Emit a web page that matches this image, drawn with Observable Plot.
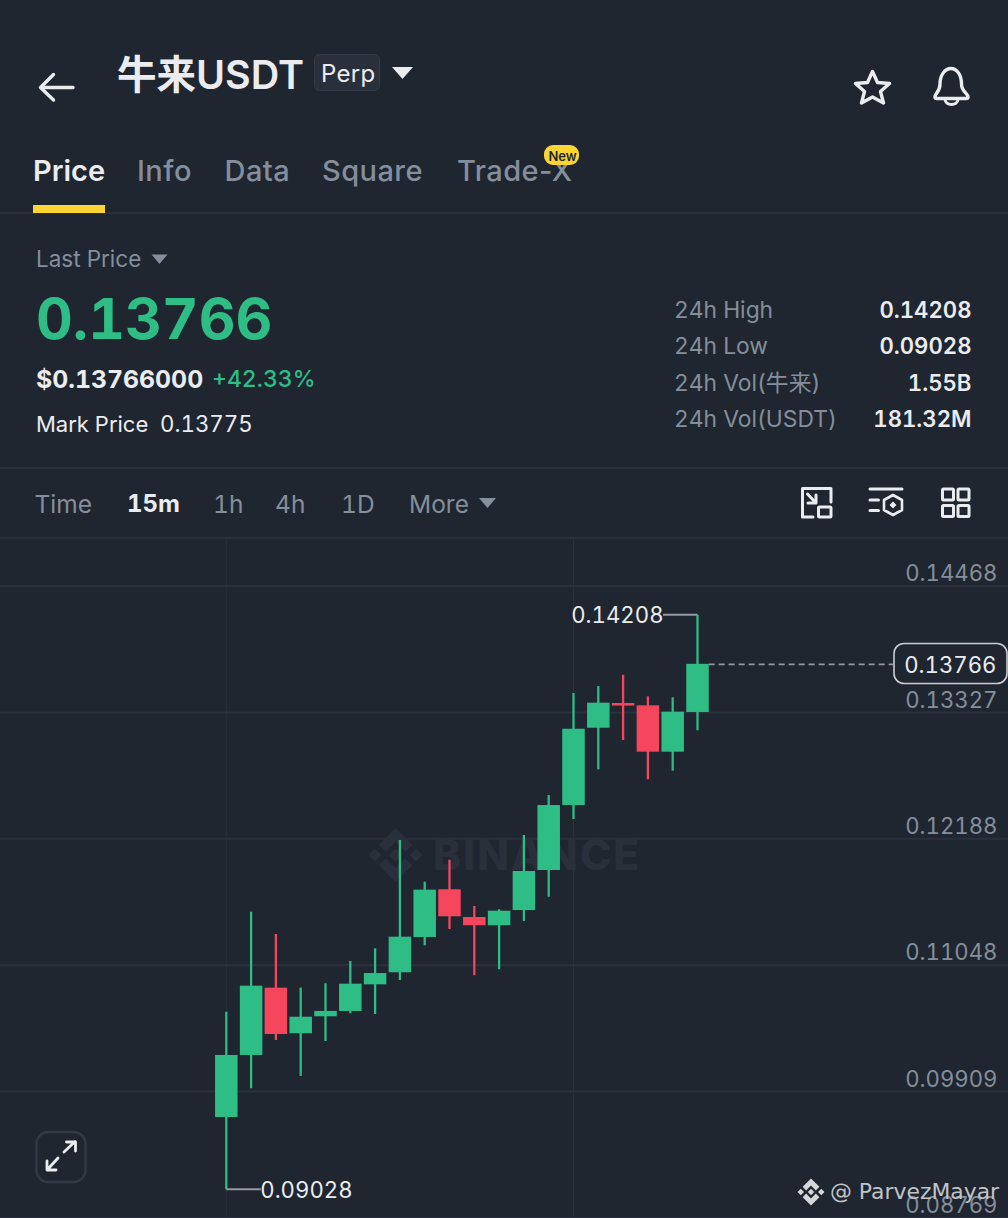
<!DOCTYPE html>
<html><head><meta charset="utf-8">
<script src="https://cdn.jsdelivr.net/npm/d3@7"></script>
<script src="https://cdn.jsdelivr.net/npm/@observablehq/plot@0.6"></script>
<style>
html,body{margin:0;padding:0;background:#1f2630;}
#page{position:relative;width:1008px;height:1218px;overflow:hidden;background:#1f2630;font-family:Inter,"Noto Sans CJK SC",sans-serif;font-variant-numeric:tabular-nums;}
.t{position:absolute;line-height:0;white-space:nowrap;}
.hr{position:absolute;left:0;width:1008px;height:2px;background:#2a303b;}
#page svg.ic{position:absolute;left:0;top:0;overflow:visible;}
#plot{position:absolute;left:0;top:538px;}
#plot svg{display:block;font-variant-numeric:tabular-nums;}
</style></head><body><div id="page"></div>
<script>
// Candle data (15m candles, oldest first)
const opens  = [0.09680,0.10239,0.10846,0.10435,0.10588,0.10636,0.10876,0.10985,0.11303,0.11733,0.11483,0.11409,0.11546,0.11907,0.12493,0.13190,0.13413,0.13392,0.12974,0.13332];
const closes = [0.10239,0.10864,0.10428,0.10584,0.10636,0.10882,0.10978,0.11306,0.11730,0.11490,0.11409,0.11540,0.11898,0.12493,0.13181,0.13416,0.13390,0.12974,0.13335,0.13766];
const highs  = [0.10629,0.11531,0.11330,0.10846,0.10886,0.11087,0.11201,0.12178,0.11802,0.12000,0.11583,0.11553,0.12223,0.12583,0.13503,0.13566,0.13668,0.13473,0.13464,0.14208];
const lows   = [0.09028,0.09939,0.10374,0.10050,0.10365,0.10615,0.10609,0.10915,0.11228,0.11375,0.10958,0.11012,0.11447,0.11666,0.12367,0.12815,0.13079,0.12725,0.12803,0.13167];
const priceTicks = [0.14468,0.13327,0.12188,0.11048,0.09909,0.08769];
const verticalGridAt = [0,14];
const lastPrice = 0.13766, dayHigh = 0.14208, dayLow = 0.09028;
const tabs = ["Price","Info","Data","Square","Trade-X"];
const intervals = ["Time","15m","1h","4h","1D","More"];
const statLabels = ["24h High","24h Low","24h Vol(牛来)","24h Vol(USDT)"];
const statValues = ["0.14208","0.09028","1.55B","181.32M"];

const BG="#1f2630", GREEN="#2ebd85", RED="#f6465d", GRAY="#848e9c", WHITE="#eaecef", GRID="#2b313c";
const page=document.getElementById("page");
function T(s,x,y,size,color,weight=400,opt={}){
  const e=document.createElement("div");e.className="t";e.textContent=s;
  e.style.cssText+=`top:${y}px;font-size:${size}px;color:${color};font-weight:${weight};`;
  if(opt.right!=null)e.style.right=(1008-opt.right)+"px";else e.style.left=x+"px";
  if(opt.ls)e.style.letterSpacing=opt.ls+"px";
  if(opt.font)e.style.fontFamily=opt.font;
  if(opt.prop)e.style.fontVariantNumeric="normal";
  page.appendChild(e);return e;
}
function HR(y){const e=document.createElement("div");e.className="hr";e.style.top=y+"px";page.appendChild(e);}
function SVG(inner){
  const d=document.createElement("div");
  d.innerHTML=`<svg class="ic" width="1008" height="1218">${inner}</svg>`;
  page.appendChild(d.firstChild);
}
HR(212);HR(467);HR(537);

// watermark (behind the chart)
const diamond=(cx,cy,s,fill)=>`<g transform="translate(${cx},${cy}) scale(${s})" fill="${fill}">
<path d="M0 -10 L6.2 -3.8 L3.6 -1.2 L0 -4.8 L-3.6 -1.2 L-6.2 -3.8Z"/><path d="M0 10 L6.2 3.8 L3.6 1.2 L0 4.8 L-3.6 1.2 L-6.2 3.8Z"/>
<path d="M0 -2.4 L2.4 0 L0 2.4 L-2.4 0Z"/><path d="M-7.6 -2.4 L-5.2 0 L-7.6 2.4 L-10 0Z"/><path d="M7.6 -2.4 L10 0 L7.6 2.4 L5.2 0Z"/></g>`;
SVG(diamond(395.5,855,2.7,"#2a303b"));
T("BINANCE",433,855,42,"#2a303b",800,{ls:2.1});

// Header
SVG(`<g fill="none" stroke="#eaecef" stroke-width="3.4" stroke-linecap="round" stroke-linejoin="round">
<path d="M73 87.5H41M53.5 74.5L40.5 87.5L53.5 100"/>
<path d="M872.5 71.5L877.5 82.5L889.5 83.5L880.5 91.5L883.5 103L872.5 97L861.5 103L864.5 91.5L855.5 83.5L867.5 82.5Z"/>
<path d="M935 97C935 93 940 92 940 84C940 75 945 68.5 951 68.5C957 68.5 961.5 75 961.5 84C961.5 92 968 93 968 97C968 98 967 98.5 966 98.5H937C935.8 98.5 935 98 935 97Z"/>
<path d="M945 99.5C945.5 106 957.5 106 958 99.5" stroke-width="3"/></g>
<rect x="314.5" y="54.5" width="65" height="36" rx="5" fill="#2a303b" stroke="#353c48"/>
<path d="M392 67H413L402.5 79Z" fill="#eaecef"/>
<rect x="33" y="205" width="72" height="8" fill="#fcd535"/>
<path d="M151.5 254.5H167.5L159.5 264Z" fill="${GRAY}"/>
<path d="M479 498H496L487.5 508Z" fill="${GRAY}"/>
<g fill="none" stroke="#eaecef" stroke-width="3" stroke-linecap="round" stroke-linejoin="round">
<path d="M813 517H802.5V488.5H831V502"/><rect x="818.5" y="507" width="12.5" height="10" rx="1"/><path d="M807.5 494L815.5 502.5M808 503H816V495"/>
<path d="M870 489H902M870 500H878.5M870 510.5H878.5"/><path d="M893 495L902 500V510L893 515L884 510V500Z" stroke-width="2.6"/>
<rect x="942.5" y="489" width="11" height="11" rx="1"/><rect x="958" y="489" width="11" height="11" rx="1"/><rect x="942.5" y="505.5" width="11" height="11" rx="1"/><rect x="958" y="505.5" width="11" height="11" rx="1"/></g>
<path d="M893 501.5L896.5 505L893 508.5L889.5 505Z" fill="#eaecef"/>`);

T("牛来USDT",117,75,39.5,"#eaecef",600);
T("Perp",321,74,24,"#eaecef",400,{ls:.3});
const tabX=[33,137,224.5,322,457];
tabs.forEach((t,i)=>T(t,tabX[i],171,29,i?GRAY:WHITE,i?500:600,{ls:i?.45:0,prop:true}));
SVG(`<rect x="544" y="145" width="35" height="20" rx="9" fill="#fcd535"/>`);
T("New",548.5,155.5,13,"#1e2329",600,{prop:true});
T("Last Price",36,259,22.5,GRAY);
T("0.13766",36,319,57,GREEN,700);
T("$0.13766000",36,379,24.8,WHITE,700);
T("+42.33%",212,379,23,GREEN,500);
T("Mark Price",36,424,22,WHITE);
T("0.13775",160,424,22.3,WHITE);
const statY=[310,346,383,419];
statLabels.forEach((t,i)=>{T(t,674,statY[i],22.8,GRAY);T(statValues[i],0,statY[i],22.2,WHITE,600,{right:971.5});});
const intX=[34.5,127,213,275,341,409];
intervals.forEach((t,i)=>T(t,intX[i],504,i===1?24:24.5,i===1?WHITE:GRAY,i===1?700:400));

// Chart
const candles=opens.map((o,i)=>({i,o,c:closes[i],h:highs[i],l:lows[i],dir:closes[i]>=o?"up":"down"}));
const half=0.4536;
const chart=Plot.plot({
  width:1008,height:680,margin:0,
  style:{background:"transparent",fontFamily:"Inter,sans-serif"},
  x:{domain:[0,19],range:[226.3,697.5],axis:null},
  y:{domain:[priceTicks[0],priceTicks[5]],range:[48,680],axis:null},
  color:{domain:["up","down"],range:[GREEN,RED]},
  marks:[
    Plot.ruleY(priceTicks,{stroke:GRID,strokeWidth:2,dy:-0.5}),
    Plot.ruleX(verticalGridAt,{stroke:GRID,strokeWidth:1,dx:-0.5}),
    Plot.ruleX(candles,{x:"i",y1:"l",y2:"h",stroke:"dir",strokeWidth:2.3,dx:-0.5}),
    Plot.rect(candles,{x1:d=>d.i-half,x2:d=>d.i+half,y1:"o",y2:"c",fill:"dir"}),
    Plot.ruleY([dayHigh],{x1:17.61,x2:19,stroke:"#9299a3",strokeWidth:2,dy:-0.5}),
    Plot.ruleY([dayLow],{x1:0,x2:1.39,stroke:"#9299a3",strokeWidth:2,dy:-0.5}),
    Plot.text([dayHigh],{x:17.61,y:d=>d,text:d=>d.toFixed(5),textAnchor:"end",fill:WHITE,fontSize:22.2,dy:1}),
    Plot.text([dayLow],{x:1.39,y:d=>d,text:d=>d.toFixed(5),textAnchor:"start",fill:WHITE,fontSize:22.2,dy:1,dx:-1}),
    Plot.ruleY([lastPrice],{x1:19.45,x2:26.9,stroke:"#9299a3",strokeWidth:1.6,strokeDasharray:"6 4"}),
    Plot.text(priceTicks,{frameAnchor:"right",y:d=>d,text:d=>d.toFixed(5),textAnchor:"end",fill:GRAY,fontSize:22.2,dx:-11,dy:-12.5})
  ]
});
const holder=document.createElement("div");holder.id="plot";holder.appendChild(chart);page.appendChild(holder);

// last-price tag, expand button, credit
SVG(`<rect x="894" y="643.5" width="113" height="40" rx="10" fill="${BG}" stroke="#c9ccd1" stroke-width="1.6"/>
<rect x="36.5" y="1132" width="49" height="50" rx="12" fill="${BG}" stroke="#333a46" stroke-width="2.4"/>
<g fill="none" stroke="#eaecef" stroke-width="2.8" stroke-linecap="round" stroke-linejoin="round"><path d="M64 1152L75 1141.5M66.5 1142H75.5V1151M58 1158L47 1170M47 1161V1170H56"/></g>
${diamond(811,1192,1.35,"#d5d7da")}`);
T(lastPrice.toFixed(5),0,664.5,22.2,WHITE,400,{right:996.5});
T("@ ParvezMayar",830,1192,21.9,"#c0c3c7",400,{font:"'DejaVu Sans',sans-serif"});
</script></body></html>
